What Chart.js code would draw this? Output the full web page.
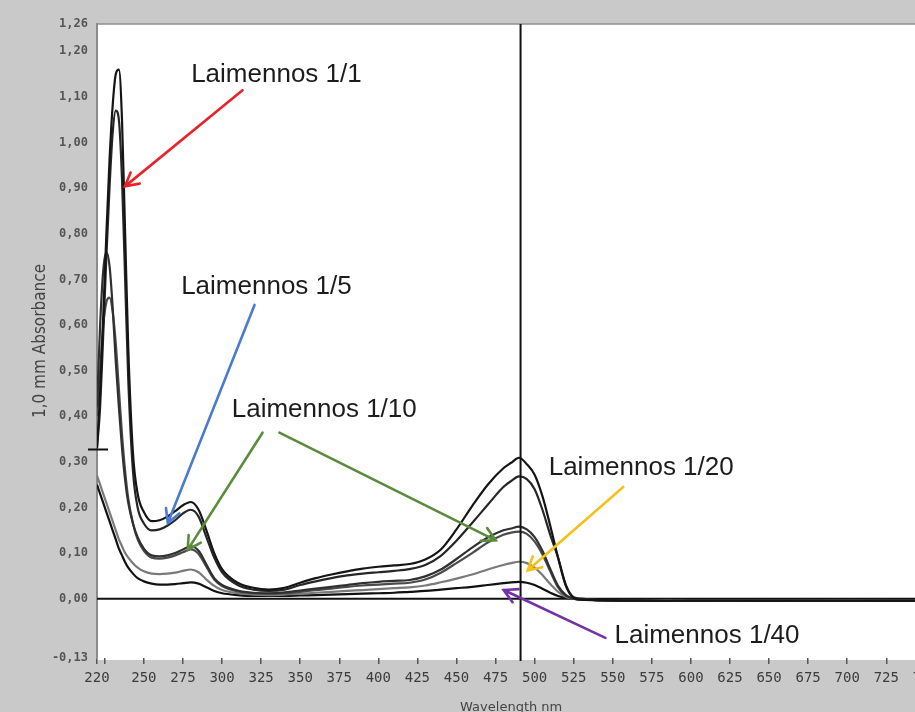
<!DOCTYPE html>
<html>
<head>
<meta charset="utf-8">
<script src="https://cdn.jsdelivr.net/npm/chart.js@4.4.0/dist/chart.umd.min.js"></script>
<style>
    html, body { margin: 0; padding: 0; background: #c9c9c9; overflow: hidden; }
    #wrap { width: 944px; height: 719px; position: relative; }
</style>
</head>
<body>
<div id="wrap"><canvas id="spectrum"></canvas></div>
<script>
/* global Chart */

// wavelength (nm) of every sample point
const wavelengths = [220, 222, 224, 226, 228, 230, 232, 234, 236, 238,
    240, 243, 246, 250, 255, 260, 265, 270, 275, 280,
    285, 290, 295, 300, 310, 320, 330, 340, 350, 360,
    370, 380, 390, 400, 410, 420, 430, 440, 450, 460,
    470, 480, 485, 490, 495, 500, 505, 510, 515, 520,
    525, 530, 540, 560, 580, 600, 650, 700, 750];

// absorbance of the six scans
const scanA = [0.33, 0.45, 0.62, 0.80, 0.96, 1.08, 1.15, 1.16, 1.05, 0.80,
    0.55, 0.32, 0.23, 0.19, 0.17, 0.172, 0.18, 0.192, 0.205, 0.212,
    0.195, 0.15, 0.10, 0.065, 0.035, 0.024, 0.02, 0.024, 0.035, 0.045,
    0.053, 0.06, 0.066, 0.07, 0.073, 0.076, 0.086, 0.108, 0.152, 0.203,
    0.25, 0.286, 0.298, 0.309, 0.295, 0.272, 0.225, 0.16, 0.09, 0.028,
    0.002, -0.002, -0.003, -0.004, -0.005, -0.004, -0.005, -0.004, -0.005];
const scanB = [0.33, 0.42, 0.58, 0.75, 0.90, 1.02, 1.07, 1.05, 0.92, 0.70,
    0.48, 0.28, 0.20, 0.165, 0.15, 0.152, 0.16, 0.172, 0.187, 0.195,
    0.18, 0.135, 0.09, 0.058, 0.03, 0.02, 0.017, 0.02, 0.03, 0.038,
    0.045, 0.051, 0.055, 0.058, 0.061, 0.065, 0.074, 0.094, 0.127, 0.166,
    0.206, 0.245, 0.258, 0.268, 0.262, 0.24, 0.195, 0.14, 0.09, 0.03,
    0.003, 0, -0.003, -0.004, -0.004, -0.005, -0.004, -0.005, -0.004];
const scanC = [0.42, 0.60, 0.72, 0.76, 0.73, 0.64, 0.52, 0.42, 0.33, 0.26,
    0.21, 0.165, 0.135, 0.11, 0.095, 0.093, 0.095, 0.10, 0.108, 0.115,
    0.105, 0.075, 0.045, 0.03, 0.018, 0.013, 0.012, 0.014, 0.018, 0.022,
    0.026, 0.03, 0.034, 0.037, 0.039, 0.041, 0.049, 0.064, 0.087, 0.112,
    0.134, 0.15, 0.154, 0.158, 0.152, 0.135, 0.105, 0.065, 0.028, 0.008,
    0, -0.002, -0.003, -0.004, -0.005, -0.004, -0.005, -0.005, -0.004];
const scanD = [0.40, 0.50, 0.60, 0.65, 0.66, 0.63, 0.56, 0.46, 0.36, 0.28,
    0.22, 0.165, 0.13, 0.105, 0.09, 0.088, 0.09, 0.095, 0.102, 0.108,
    0.098, 0.07, 0.042, 0.028, 0.016, 0.012, 0.011, 0.012, 0.015, 0.019,
    0.022, 0.026, 0.029, 0.031, 0.033, 0.035, 0.042, 0.057, 0.078, 0.10,
    0.123, 0.14, 0.145, 0.147, 0.142, 0.125, 0.097, 0.06, 0.025, 0.006,
    0, -0.002, -0.003, -0.004, -0.004, -0.005, -0.004, -0.005, -0.005];
const scanE = [0.27, 0.25, 0.23, 0.21, 0.19, 0.17, 0.15, 0.13, 0.115, 0.10,
    0.09, 0.078, 0.068, 0.06, 0.055, 0.054, 0.055, 0.057, 0.061, 0.064,
    0.058, 0.042, 0.028, 0.019, 0.012, 0.009, 0.008, 0.009, 0.011, 0.013,
    0.015, 0.017, 0.019, 0.021, 0.023, 0.025, 0.029, 0.036, 0.044, 0.053,
    0.064, 0.074, 0.078, 0.081, 0.078, 0.068, 0.052, 0.032, 0.015, 0.004,
    0, -0.002, -0.003, -0.003, -0.004, -0.004, -0.005, -0.004, -0.004];
const scanF = [0.25, 0.23, 0.21, 0.19, 0.17, 0.15, 0.13, 0.11, 0.095, 0.08,
    0.068, 0.055, 0.045, 0.038, 0.033, 0.031, 0.031, 0.032, 0.034, 0.036,
    0.033, 0.025, 0.017, 0.012, 0.008, 0.006, 0.006, 0.006, 0.007, 0.008,
    0.009, 0.01, 0.011, 0.012, 0.013, 0.015, 0.017, 0.02, 0.023, 0.026,
    0.03, 0.034, 0.036, 0.037, 0.035, 0.03, 0.022, 0.013, 0.006, 0.002,
    0, -0.002, -0.003, -0.004, -0.005, -0.005, -0.004, -0.005, -0.005];

const xTicks = [220, 225, 250, 275, 300, 325, 350, 375, 400, 425, 450, 475,
    500, 525, 550, 575, 600, 625, 650, 675, 700, 725, 750];
const yTicks = [-0.13, 0, 0.1, 0.2, 0.3, 0.4, 0.5, 0.6, 0.7, 0.8, 0.9, 1.0, 1.1, 1.2, 1.26];

// instrument cursor
const cursorNm = 491;
const cursorAbs = 0.327;

// hand-drawn labels, in data units (nm, absorbance)
const notes = [
    {text: 'Laimennos 1/1', at: [334.8, 1.148], color: '#e8232b', arrows: [[313.1, 1.115, 237.9, 0.904]]},
    {text: 'Laimennos 1/5', at: [328.4, 0.683], color: '#4a7bd0', arrows: [[320.8, 0.644, 265.3, 0.166]]},
    {text: 'Laimennos 1/10', at: [365.4, 0.414], color: '#5a8c3c', arrows: [[325.9, 0.364, 278.0, 0.107], [336.7, 0.364, 475.1, 0.128]]},
    {text: 'Laimennos 1/20', at: [568.2, 0.287], color: '#f2c21b', arrows: [[556.7, 0.245, 495.5, 0.062]]},
    {text: 'Laimennos 1/40', at: [610.3, -0.082], color: '#7432a8', arrows: [[545.3, -0.086, 480.2, 0.019]]}
];

const toPoints = (values) => wavelengths.map((w, i) => ({x: w, y: values[i]}));

const scanLine = (values, color) => ({
    data: toPoints(values),
    borderColor: color,
    borderWidth: 2.2,
    pointRadius: 0,
    cubicInterpolationMode: 'monotone',
    fill: false
});

const paper = {
    id: 'paper',
    beforeDraw: (chart) => {
        const {ctx, chartArea: a, width, height} = chart;
        ctx.save();
        ctx.fillStyle = '#c9c9c9';
        ctx.fillRect(0, 0, width, height);
        ctx.fillStyle = '#ffffff';
        ctx.fillRect(a.left, a.top, width - a.left, a.bottom - a.top + 2);
        ctx.strokeStyle = '#8e8e8e';
        ctx.lineWidth = 1.5;
        ctx.beginPath();
        ctx.moveTo(a.left, a.top);
        ctx.lineTo(width, a.top);
        ctx.stroke();
        ctx.restore();
    },
    beforeDatasetsDraw: (chart) => {
        const {ctx, chartArea: a, scales: {y}} = chart;
        const y0 = y.getPixelForValue(0);
        ctx.save();
        ctx.strokeStyle = '#111';
        ctx.lineWidth = 2;
        ctx.beginPath();
        ctx.moveTo(a.left, y0);
        ctx.lineTo(chart.width, y0);
        ctx.stroke();
        ctx.restore();
    },
    afterDatasetsDraw: (chart) => {
        const {ctx, chartArea: a, scales: {x, y}} = chart;
        const cx = x.getPixelForValue(cursorNm);
        const cy = y.getPixelForValue(cursorAbs);
        ctx.save();
        ctx.strokeStyle = '#111';
        ctx.lineWidth = 2;
        ctx.beginPath();
        ctx.moveTo(cx, a.top);
        ctx.lineTo(cx, a.bottom + 3);
        ctx.moveTo(a.left - 9, cy);
        ctx.lineTo(a.left + 11, cy);
        ctx.stroke();
        ctx.restore();
    },
    afterDraw: (chart) => {
        const {ctx, scales: {x, y}} = chart;
        ctx.save();
        notes.forEach(n => {
            ctx.strokeStyle = n.color;
            ctx.lineWidth = 2.6;
            ctx.lineCap = 'round';
            n.arrows.forEach(ar => {
                const x1 = x.getPixelForValue(ar[0]), y1 = y.getPixelForValue(ar[1]);
                const x2 = x.getPixelForValue(ar[2]), y2 = y.getPixelForValue(ar[3]);
                const ang = Math.atan2(y2 - y1, x2 - x1);
                ctx.beginPath();
                ctx.moveTo(x1, y1);
                ctx.lineTo(x2, y2);
                ctx.moveTo(x2 - 15 * Math.cos(ang - 0.5), y2 - 15 * Math.sin(ang - 0.5));
                ctx.lineTo(x2, y2);
                ctx.lineTo(x2 - 15 * Math.cos(ang + 0.5), y2 - 15 * Math.sin(ang + 0.5));
                ctx.stroke();
            });
            ctx.fillStyle = '#1c1c1c';
            ctx.font = '26px "Liberation Sans", Arial, sans-serif';
            ctx.textAlign = 'center';
            ctx.textBaseline = 'middle';
            ctx.fillText(n.text, x.getPixelForValue(n.at[0]), y.getPixelForValue(n.at[1]));
        });
        ctx.restore();
    }
};

new Chart(document.getElementById('spectrum'), {
    type: 'line',
    data: {
        datasets: [
            scanLine(scanA, '#151515'),
            scanLine(scanB, '#262626'),
            scanLine(scanC, '#303030'),
            scanLine(scanD, '#4a4a4a'),
            scanLine(scanE, '#7a7a7a'),
            scanLine(scanF, '#111111')
        ]
    },
    options: {
        responsive: true,
        maintainAspectRatio: false,
        animation: false,
        layout: {padding: {top: 24, right: 16, bottom: 0, left: 0}},
        plugins: {legend: {display: false}, tooltip: {enabled: false}},
        scales: {
            x: {
                type: 'linear',
                min: 220,
                max: 750,
                afterBuildTicks: (s) => { s.ticks = xTicks.map(v => ({value: v})); },
                afterFit: (s) => { s.height = 61; },
                ticks: {
                    autoSkip: false,
                    maxRotation: 0,
                    padding: 6,
                    color: '#3c3c3c',
                    font: {family: '"DejaVu Sans Mono", monospace', size: 14},
                    callback: (v) => v === 225 ? '' : v
                },
                grid: {display: true, drawOnChartArea: false, tickLength: 6, color: '#555', lineWidth: 1.5},
                border: {display: false},
                title: {
                    display: true,
                    text: 'Wavelength nm',
                    color: '#444',
                    font: {family: '"DejaVu Sans", sans-serif', size: 13},
                    padding: {top: 12, bottom: 4}
                }
            },
            y: {
                min: -0.13,
                max: 1.26,
                afterBuildTicks: (s) => { s.ticks = yTicks.map(v => ({value: v})); },
                afterFit: (s) => { s.width = 97; },
                ticks: {
                    padding: 9,
                    color: '#555',
                    font: {family: '"DejaVu Sans Mono", monospace', size: 12, weight: 'bold'},
                    callback: (v) => v.toFixed(2).replace('.', ',')
                },
                grid: {display: false, drawTicks: false},
                border: {display: true, color: '#8c8c8c', width: 2},
                title: {
                    display: true,
                    text: '1,0 mm Absorbance',
                    color: '#444',
                    font: {family: '"Liberation Sans Narrow", "DejaVu Sans Condensed", sans-serif', size: 17},
                    padding: {top: 30, bottom: 0}
                }
            }
        }
    },
    plugins: [paper]
});
</script>
</body>
</html>
